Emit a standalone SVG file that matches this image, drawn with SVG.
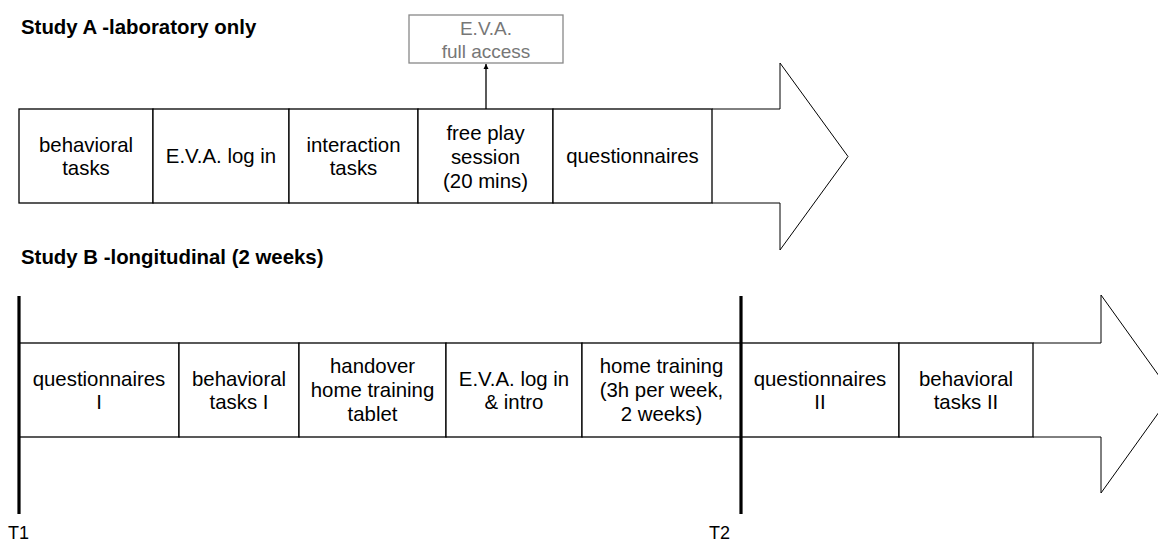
<svg xmlns="http://www.w3.org/2000/svg" width="1158" height="544" viewBox="0 0 1158 544">
<style>
.t{font-family:"Liberation Sans",Arial,sans-serif;font-size:20.4px;fill:#000;text-anchor:middle}
.h{font-family:"Liberation Sans",Arial,sans-serif;font-size:20.4px;font-weight:bold;fill:#000}
.g{font-family:"Liberation Sans",Arial,sans-serif;font-size:19px;fill:#777;text-anchor:middle}
.lbl{font-family:"Liberation Sans",Arial,sans-serif;font-size:18px;fill:#000}
.box{fill:#fff;stroke:#000;stroke-width:1.3}
.arr{fill:#fff;stroke:#000;stroke-width:1}
.tl{stroke:#000;stroke-width:3.2}
</style>
<defs>
<marker id="ah" viewBox="0 0 10 10" refX="10" refY="5" markerWidth="5" markerHeight="6" orient="auto" markerUnits="userSpaceOnUse">
<path d="M0,0 L10,5 L0,10 z" fill="#000"/>
</marker>
</defs>
<rect width="1158" height="544" fill="#fff"/>

<text class="h" x="21" y="34">Study A -laboratory only</text>
<text class="h" x="21" y="264">Study B -longitudinal (2 weeks)</text>

<!-- Study A -->
<g id="arrowA"><path class="arr" d="M712,109 H780 V63 L848,156.5 L780,250 V203 H712"/></g>
<g id="a1"><rect class="box" x="19" y="109" width="134" height="94"/><text class="t" x="86" y="152">behavioral</text><text class="t" x="86" y="175">tasks</text></g>
<g id="a2"><rect class="box" x="153" y="109" width="136" height="94"/><text class="t" x="221" y="163">E.V.A. log in</text></g>
<g id="a3"><rect class="box" x="289" y="109" width="129" height="94"/><text class="t" x="353.5" y="152">interaction</text><text class="t" x="353.5" y="175">tasks</text></g>
<g id="a4"><rect class="box" x="418" y="109" width="135" height="94"/><text class="t" x="485.5" y="140">free play</text><text class="t" x="485.5" y="164">session</text><text class="t" x="485.5" y="188">(20 mins)</text></g>
<g id="a5"><rect class="box" x="553" y="109" width="159" height="94"/><text class="t" x="632.5" y="163">questionnaires</text></g>
<g id="eva"><rect x="409" y="15" width="154" height="48" fill="#fff" stroke="#888" stroke-width="1.3"/><text class="g" x="486" y="35">E.V.A.</text><text class="g" x="486" y="58">full access</text></g>

<g id="connectors">
<line x1="486" y1="109" x2="486" y2="64" stroke="#000" stroke-width="1.3" marker-end="url(#ah)"/>
</g>

<!-- Study B -->
<g id="arrowB"><path class="arr" d="M1033,343 H1101 V295 L1172,394 L1101,493 V437 H1033"/></g>
<g id="b1"><rect class="box" x="19" y="343" width="160" height="94"/><text class="t" x="99" y="386">questionnaires</text><text class="t" x="99" y="409">I</text></g>
<g id="b2"><rect class="box" x="179" y="343" width="120" height="94"/><text class="t" x="239" y="386">behavioral</text><text class="t" x="239" y="409">tasks I</text></g>
<g id="b3"><rect class="box" x="299" y="343" width="147" height="94"/><text class="t" x="372.5" y="373">handover</text><text class="t" x="372.5" y="397">home training</text><text class="t" x="372.5" y="421">tablet</text></g>
<g id="b4"><rect class="box" x="446" y="343" width="136" height="94"/><text class="t" x="514" y="386">E.V.A. log in</text><text class="t" x="514" y="409">&amp; intro</text></g>
<g id="b5"><rect class="box" x="582" y="343" width="159" height="94"/><text class="t" x="661.5" y="373">home training</text><text class="t" x="661.5" y="397">(3h per week,</text><text class="t" x="661.5" y="421">2 weeks)</text></g>
<g id="b6"><rect class="box" x="741" y="343" width="158" height="94"/><text class="t" x="820" y="386">questionnaires</text><text class="t" x="820" y="409">II</text></g>
<g id="b7"><rect class="box" x="899" y="343" width="134" height="94"/><text class="t" x="966" y="386">behavioral</text><text class="t" x="966" y="409">tasks II</text></g>

<g id="t1"><line class="tl" x1="19" y1="296" x2="19" y2="514"/><text class="lbl" x="8" y="539">T1</text></g>
<g id="t2"><line class="tl" x1="741" y1="296" x2="741" y2="514"/><text class="lbl" x="709" y="539">T2</text></g>
</svg>
